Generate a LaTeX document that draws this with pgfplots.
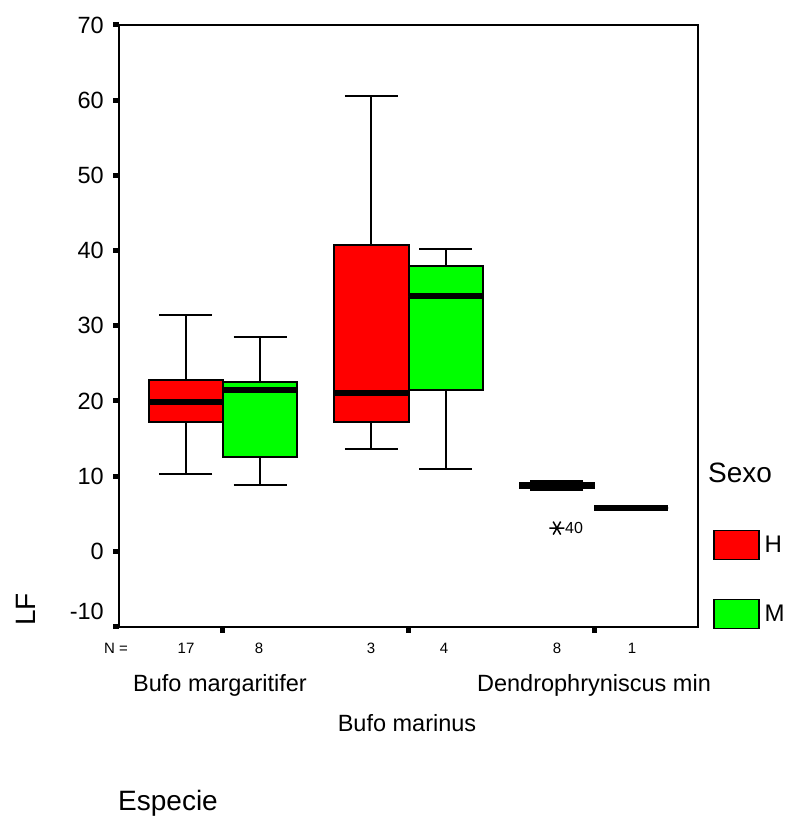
\documentclass[border=0pt]{standalone}
\usepackage{pgfplots}
\pgfplotsset{compat=1.18}
\usepgfplotslibrary{statistics}
\usepackage{fontspec}
\setmainfont{Liberation Sans}
\definecolor{spssred}{RGB}{255,0,0}
\definecolor{spssgreen}{RGB}{0,255,0}
\newcommand{\fs}[1]{\fontsize{#1}{#1}\selectfont}
\pgfplotsset{
  spssbox/.style={forget plot, draw=black, line width=2pt,
    boxplot/draw direction=y,
    boxplot/box extend=0.4,
    boxplot/whisker extend=0.286,
    boxplot/every median/.style={line width=6pt},
    boxplot/every whisker/.style={line width=2pt},
    mark=asterisk, mark size=7.5pt,
    mark options={rotate=90, line width=1.5pt, solid}},
}
\begin{document}
\begin{tikzpicture}
\useasboundingbox (0pt,0pt) rectangle (784pt,818pt);
\begin{axis}[
  at={(119pt,191.4pt)}, anchor=south west,
  scale only axis, width=579pt, height=601.6pt,
  xmin=0.4394, xmax=3.5606, ymin=-10, ymax=70,
  xtick={1,2,3}, xticklabels={},
  ytick={0,10,...,70}, yticklabels={0,10,20,30,40,50,60,70},
  extra y ticks={-10}, extra y tick labels={-10},
  extra y tick style={yticklabel style={yshift=15.5pt}},
  xtick pos=bottom, ytick pos=left,
  tick align=outside, major tick length=6pt,
  tick style={line width=5pt, black},
  axis line style={line width=2pt},
  ticklabel style={font=\fs{23.5}},
  yticklabel style={inner sep=0pt, xshift=-9pt},
  legend style={at={(1.02591,0.16057)}, anchor=north west,
    draw=none, fill=none, inner sep=0pt, outer sep=0pt,
    row sep=38.5pt, column sep=5pt, font=\fs{24},
    nodes={inner sep=0pt}},
  legend cell align=left,
  clip=false,
]
% Bufo margaritifer
\addplot[spssbox, fill=spssred, boxplot prepared={draw position=0.8,
  lower whisker=10.25, lower quartile=17.2, median=19.8,
  upper quartile=22.8, upper whisker=31.5}] coordinates {};
\addplot[spssbox, fill=spssgreen, boxplot prepared={draw position=1.2,
  lower whisker=8.8, lower quartile=12.6, median=21.4,
  upper quartile=22.5, upper whisker=28.5}] coordinates {};
% Bufo marinus
\addplot[spssbox, fill=spssred, boxplot prepared={draw position=1.8,
  lower whisker=13.6, lower quartile=17.2, median=21.0,
  upper quartile=40.7, upper whisker=60.5}] coordinates {};
\addplot[spssbox, fill=spssgreen, boxplot prepared={draw position=2.2,
  lower whisker=10.9, lower quartile=21.4, median=33.9,
  upper quartile=38.0, upper whisker=40.2}] coordinates {};
% Dendrophryniscus min
\addplot[spssbox, fill=spssred, boxplot prepared={draw position=2.8,
  lower whisker=8.15, lower quartile=8.45, median=8.8,
  upper quartile=9.1, upper whisker=9.3}] coordinates {(0,3.1)};
\addplot[spssbox, fill=spssgreen, boxplot prepared={draw position=3.2,
  lower whisker=5.8, lower quartile=5.8, median=5.8,
  upper quartile=5.8, upper whisker=5.8}] coordinates {};
\node[anchor=west, inner sep=0pt, font=\fs{16}] at (axis cs:2.8,3.1) [xshift=8pt] {40};

\addlegendimage{legend image code/.code={\draw[fill=spssred, draw=black, line width=1.5pt] (0pt,-14.5pt) rectangle (45pt,14.5pt);}}
\addlegendentry{H}
\addlegendimage{legend image code/.code={\draw[fill=spssgreen, draw=black, line width=1.5pt] (0pt,-14.5pt) rectangle (45pt,14.5pt);}}
\addlegendentry{M}
\end{axis}
% axis titles and annotations
\node[rotate=90, anchor=base west, inner sep=0pt, font=\fs{28}] at (35pt,192pt) {LF};
\node[anchor=base west, inner sep=0pt, font=\fs{28}] at (708pt,335pt) {Sexo};
\node[anchor=base west, inner sep=0pt, font=\fs{28}] at (118pt,8pt) {Especie};
% N row
\begin{scope}[every node/.style={anchor=base, inner sep=0pt, font=\fs{15}}]
\node[anchor=base west] at (104pt,164pt) {N =};
\node at (186pt,164pt) {17};
\node at (259pt,164pt) {8};
\node at (371pt,164pt) {3};
\node at (444pt,164pt) {4};
\node at (557pt,164pt) {8};
\node at (632pt,164pt) {1};
\end{scope}
% category labels
\begin{scope}[every node/.style={anchor=base, inner sep=0pt, font=\fs{23.5}}]
\node at (220pt,126pt) {Bufo margaritifer};
\node at (594pt,126pt) {Dendrophryniscus min};
\node at (407pt,86.3pt) {Bufo marinus};
\end{scope}
\end{tikzpicture}
\end{document}
